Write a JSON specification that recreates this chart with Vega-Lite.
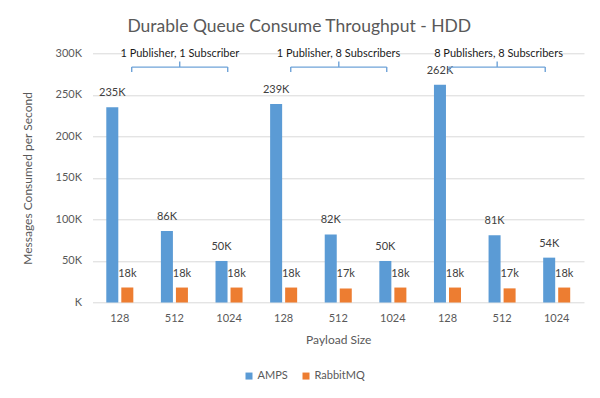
{
  "$schema": "https://vega.github.io/schema/vega-lite/v6.json",
  "autosize": {"type": "none"},
  "padding": {"left": 92.5, "top": 53.3, "right": 16, "bottom": 95.5},
  "width": 491.5,
  "height": 249.2,
  "background": "white",
  "config": {
    "view": {"stroke": null},
    "font": "Lato",
    "axis": {"labelFont": "Lato", "titleFont": "Lato", "labelColor": "#595959", "titleColor": "#595959"}
  },
  "title": {
    "text": "Durable Queue Consume Throughput - HDD",
    "font": "Lato",
    "fontSize": 17.5,
    "fontWeight": "normal",
    "color": "#595959",
    "anchor": "middle",
    "frame": "group",
    "dx": -39,
    "offset": 12
  },
  "datasets": {
    "bars": [
      {"cat": "1-128", "series": "AMPS", "value": 235000},
      {"cat": "1-128", "series": "RabbitMQ", "value": 18000},
      {"cat": "1-512", "series": "AMPS", "value": 86000},
      {"cat": "1-512", "series": "RabbitMQ", "value": 18000},
      {"cat": "1-1024", "series": "AMPS", "value": 50000},
      {"cat": "1-1024", "series": "RabbitMQ", "value": 18000},
      {"cat": "2-128", "series": "AMPS", "value": 239000},
      {"cat": "2-128", "series": "RabbitMQ", "value": 18000},
      {"cat": "2-512", "series": "AMPS", "value": 82000},
      {"cat": "2-512", "series": "RabbitMQ", "value": 17000},
      {"cat": "2-1024", "series": "AMPS", "value": 50000},
      {"cat": "2-1024", "series": "RabbitMQ", "value": 18000},
      {"cat": "3-128", "series": "AMPS", "value": 262000},
      {"cat": "3-128", "series": "RabbitMQ", "value": 18000},
      {"cat": "3-512", "series": "AMPS", "value": 81000},
      {"cat": "3-512", "series": "RabbitMQ", "value": 17000},
      {"cat": "3-1024", "series": "AMPS", "value": 54000},
      {"cat": "3-1024", "series": "RabbitMQ", "value": 18000}
    ],
    "braces": [
      {"x": 0.718, "x2": 2.476, "y": 283400, "y2": 283400},
      {"x": 0.718, "x2": 0.718, "y": 283400, "y2": 277350},
      {"x": 2.476, "x2": 2.476, "y": 283400, "y2": 277350},
      {"x": 1.597, "x2": 1.597, "y": 283400, "y2": 290100},
      {"x": 3.63, "x2": 5.388, "y": 283400, "y2": 283400},
      {"x": 3.63, "x2": 3.63, "y": 283400, "y2": 277350},
      {"x": 5.388, "x2": 5.388, "y": 283400, "y2": 277350},
      {"x": 4.51, "x2": 4.51, "y": 283400, "y2": 290100},
      {"x": 6.53, "x2": 8.29, "y": 283400, "y2": 283400},
      {"x": 6.53, "x2": 6.53, "y": 283400, "y2": 277350},
      {"x": 8.29, "x2": 8.29, "y": 283400, "y2": 277350},
      {"x": 7.41, "x2": 7.41, "y": 283400, "y2": 290100}
    ],
    "groups": [
      {"label": "1 Publisher, 1 Subscriber", "x": 1.6, "x0": 0.56, "x1": 2.65, "y": 299300, "y0": 298000, "y1": 302000},
      {"label": "1 Publisher, 8 Subscribers", "x": 4.505, "x0": 3.43, "x1": 5.58, "y": 299300, "y0": 298000, "y1": 302000},
      {"label": "8 Publishers, 8 Subscribers", "x": 7.435, "x0": 6.31, "x1": 8.56, "y": 299300, "y0": 298000, "y1": 302000}
    ]
  },
  "layer": [
    {
      "data": {"name": "bars"},
      "layer": [
        {
          "mark": {"type": "bar"},
          "encoding": {
            "x": {
              "field": "cat", "type": "nominal", "sort": null,
              "scale": {"paddingInner": 0.505, "paddingOuter": 0.2525},
              "axis": {
                "title": "Payload Size",
                "titleFontSize": 12,
                "titleFontWeight": "normal",
                "titlePadding": 11,
                "labelExpr": "split(datum.label, '-')[1]",
                "labelFontSize": 11,
                "labelAngle": 0,
                "labelPadding": 10,
                "ticks": false,
                "domain": false
              }
            },
            "xOffset": {"field": "series", "type": "nominal", "scale": {"paddingInner": 0.2}},
            "y": {
              "field": "value", "type": "quantitative",
              "scale": {"domain": [0, 300000], "nice": false},
              "axis": {
                "title": "Messages Consumed per Second",
                "titleFontSize": 12,
                "titleFontWeight": "normal",
                "titlePadding": 21,
                "values": [0, 50000, 100000, 150000, 200000, 250000, 300000],
                "labelExpr": "datum.value == 0 ? 'K' : format(datum.value / 1000, 'd') + 'K'",
                "labelFontSize": 11,
                "labelPadding": 11,
                "ticks": false,
                "domain": false,
                "grid": true,
                "gridColor": "#d9d9d9",
                "gridWidth": 1
              }
            },
            "color": {
              "field": "series", "type": "nominal",
              "scale": {"domain": ["AMPS", "RabbitMQ"], "range": ["#5B9BD5", "#ED7D31"]},
              "legend": {
                "title": null,
                "orient": "none",
                "direction": "horizontal",
                "legendX": 151,
                "legendY": 317,
                "symbolType": "square",
                "symbolSize": 49,
                "symbolStrokeWidth": 0,
                "labelFont": "Lato",
                "labelFontSize": 11,
                "labelColor": "#595959",
                "labelOffset": 3,
                "columnPadding": 12
              }
            }
          }
        },
        {
          "transform": [
            {"calculate": "format(datum.value / 1000, 'd') + (datum.series == 'AMPS' ? 'K' : 'k')", "as": "label"}
          ],
          "mark": {"type": "text", "dy": -14, "fontSize": 11, "font": "Lato", "color": "#404040", "baseline": "middle"},
          "encoding": {
            "x": {"field": "cat", "type": "nominal", "sort": null},
            "xOffset": {"field": "series", "type": "nominal"},
            "y": {"field": "value", "type": "quantitative"},
            "text": {"field": "label"}
          }
        }
      ]
    },
    {
      "layer": [
        {
          "data": {"name": "groups"},
          "mark": {"type": "rect", "color": "white"},
          "encoding": {
            "x": {"field": "x0", "type": "quantitative", "scale": {"domain": [0, 9], "nice": false, "zero": false}, "axis": null},
            "x2": {"field": "x1"},
            "y": {"field": "y0", "type": "quantitative"},
            "y2": {"field": "y1"}
          }
        },
        {
          "data": {"name": "braces"},
          "mark": {"type": "rule", "color": "#6fa3d8", "strokeWidth": 1.4},
          "encoding": {
            "x": {"field": "x", "type": "quantitative", "axis": null},
            "x2": {"field": "x2"},
            "y": {"field": "y", "type": "quantitative"},
            "y2": {"field": "y2"}
          }
        },
        {
          "data": {"name": "groups"},
          "mark": {"type": "text", "fontSize": 11, "font": "Lato", "color": "#1a1a1a", "baseline": "middle"},
          "encoding": {
            "x": {"field": "x", "type": "quantitative", "axis": null},
            "y": {"field": "y", "type": "quantitative"},
            "text": {"field": "label"}
          }
        }
      ]
    }
  ],
  "resolve": {"scale": {"x": "independent"}, "axis": {"x": "independent"}}
}
